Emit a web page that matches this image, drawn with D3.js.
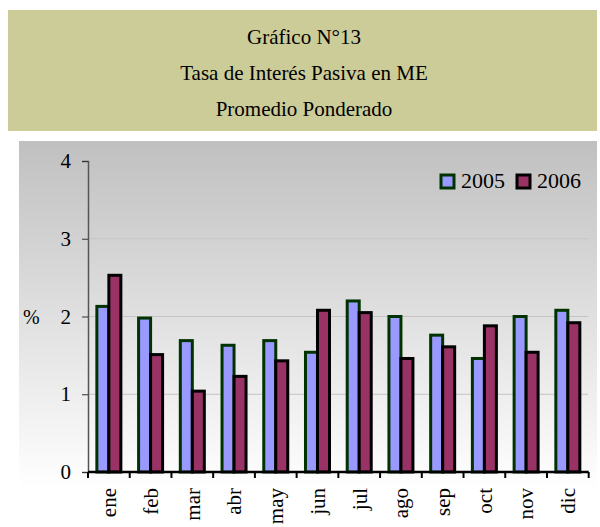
<!DOCTYPE html>
<html><head><meta charset="utf-8">
<script src="https://cdn.jsdelivr.net/npm/d3@7"></script>
<style>body{margin:0;background:#fff}</style>
</head><body><svg id="c" width="600" height="527"></svg>
<script>
const titleLines = ["Gráfico N°13", "Tasa de Interés Pasiva en ME", "Promedio Ponderado"];
const months = ["ene","feb","mar","abr","may","jun","jul","ago","sep","oct","nov","dic"];
const seriesNames = ["2005","2006"];
const values2005 = [2.13,1.98,1.69,1.63,1.69,1.54,2.20,2.00,1.76,1.46,2.00,2.08];
const values2006 = [2.53,1.51,1.04,1.23,1.43,2.08,2.05,1.46,1.61,1.88,1.54,1.92];
const yTicks = [0,1,2,3,4];
const yLabel = "%";

const fills = ["#9999ff","#993366"];
const strokes = ["#003300","#000000"];
const FF = "Liberation Serif";

const svg = d3.select("#c");
// header
svg.append("rect").attr("x",8).attr("y",10).attr("width",589).attr("height",121).attr("fill","#cccc99");
svg.selectAll("text.title").data(titleLines).join("text").attr("class","title")
  .attr("x",304).attr("y",(d,i)=>44+i*36).attr("text-anchor","middle")
  .attr("font-size",21).attr("font-family",FF).attr("fill","#000").text(d=>d);

// chart background gradient
const defs = svg.append("defs");
const g = defs.append("linearGradient").attr("id","bg").attr("x1",0).attr("y1",0).attr("x2",0).attr("y2",1);
g.append("stop").attr("offset","0%").attr("stop-color","#c0c0c0");
g.append("stop").attr("offset","90%").attr("stop-color","#ffffff");
g.append("stop").attr("offset","100%").attr("stop-color","#ffffff");
svg.append("rect").attr("x",19).attr("y",141).attr("width",578).attr("height",386).attr("fill","url(#bg)");

const x0 = d3.scaleBand().domain(months).range([88,588.7]).paddingInner(0).paddingOuter(0);
const y = d3.scaleLinear().domain([0,4]).range([472,161]);
const bw = 12;

// gridlines
svg.selectAll("line.grid").data(yTicks.filter(t=>t>0)).join("line").attr("class","grid")
  .attr("x1",88).attr("x2",588).attr("y1",d=>y(d)).attr("y2",d=>y(d))
  .attr("stroke","#c4c4c4").attr("stroke-width",1);

// bars
const data = months.map((m,i)=>({m, v:[values2005[i], values2006[i]]}));
const grp = svg.selectAll("g.grp").data(data).join("g").attr("class","grp");
[0,1].forEach(s=>{
  grp.append("rect")
    .attr("x",d=>x0(d.m)+x0.bandwidth()/2 - bw + s*bw)
    .attr("y",d=>y(d.v[s]))
    .attr("width",bw)
    .attr("height",d=>y(0)-y(d.v[s]))
    .attr("fill",fills[s]).attr("stroke",strokes[s]).attr("stroke-width",3);
});

// y axis
const yAxis = d3.axisLeft(y).tickValues(yTicks).tickSize(6).tickPadding(11).tickFormat(d3.format("d"));
const ya = svg.append("g").attr("transform","translate(88,0)").call(yAxis).attr("font-family",FF);
ya.select(".domain").attr("stroke","#555").attr("stroke-width",1.5);
ya.selectAll(".tick line").attr("stroke","#333");
ya.selectAll("text").attr("font-size",21).attr("fill","#000").attr("font-family",FF);

// x axis
const xa = svg.append("g").attr("transform","translate(0,472)");
xa.append("line").attr("x1",88).attr("x2",588.7).attr("y1",0).attr("y2",0).attr("stroke","#000").attr("stroke-width",2.5);
const bounds = months.map(m=>x0(m)).concat([x0(months[months.length-1])+x0.step()]);
xa.selectAll("line.tk").data(bounds).join("line").attr("class","tk")
  .attr("x1",d=>d).attr("x2",d=>d).attr("y1",0).attr("y2",6).attr("stroke","#000").attr("stroke-width",2);
xa.selectAll("text").data(months).join("text")
  .attr("transform",d=>`translate(${x0(d)+x0.bandwidth()/2},16) rotate(-90)`)
  .attr("dy","0.35em").attr("text-anchor","end").attr("font-size",21).attr("font-family",FF).attr("fill","#000").text(d=>d);

// y label
svg.append("text").attr("x",23).attr("y",324).attr("font-size",20).attr("font-family",FF).attr("fill","#000").text(yLabel);

// legend
const legX = [441,517], legTX=[461,537];
seriesNames.forEach((n,i)=>{
  svg.append("rect").attr("x",legX[i]).attr("y",175).attr("width",13).attr("height",13)
    .attr("fill",fills[i]).attr("stroke",strokes[i]).attr("stroke-width",3);
  svg.append("text").attr("x",legTX[i]).attr("y",188).attr("font-size",22).attr("font-family",FF).attr("fill","#000").text(n);
});
</script></body></html>
